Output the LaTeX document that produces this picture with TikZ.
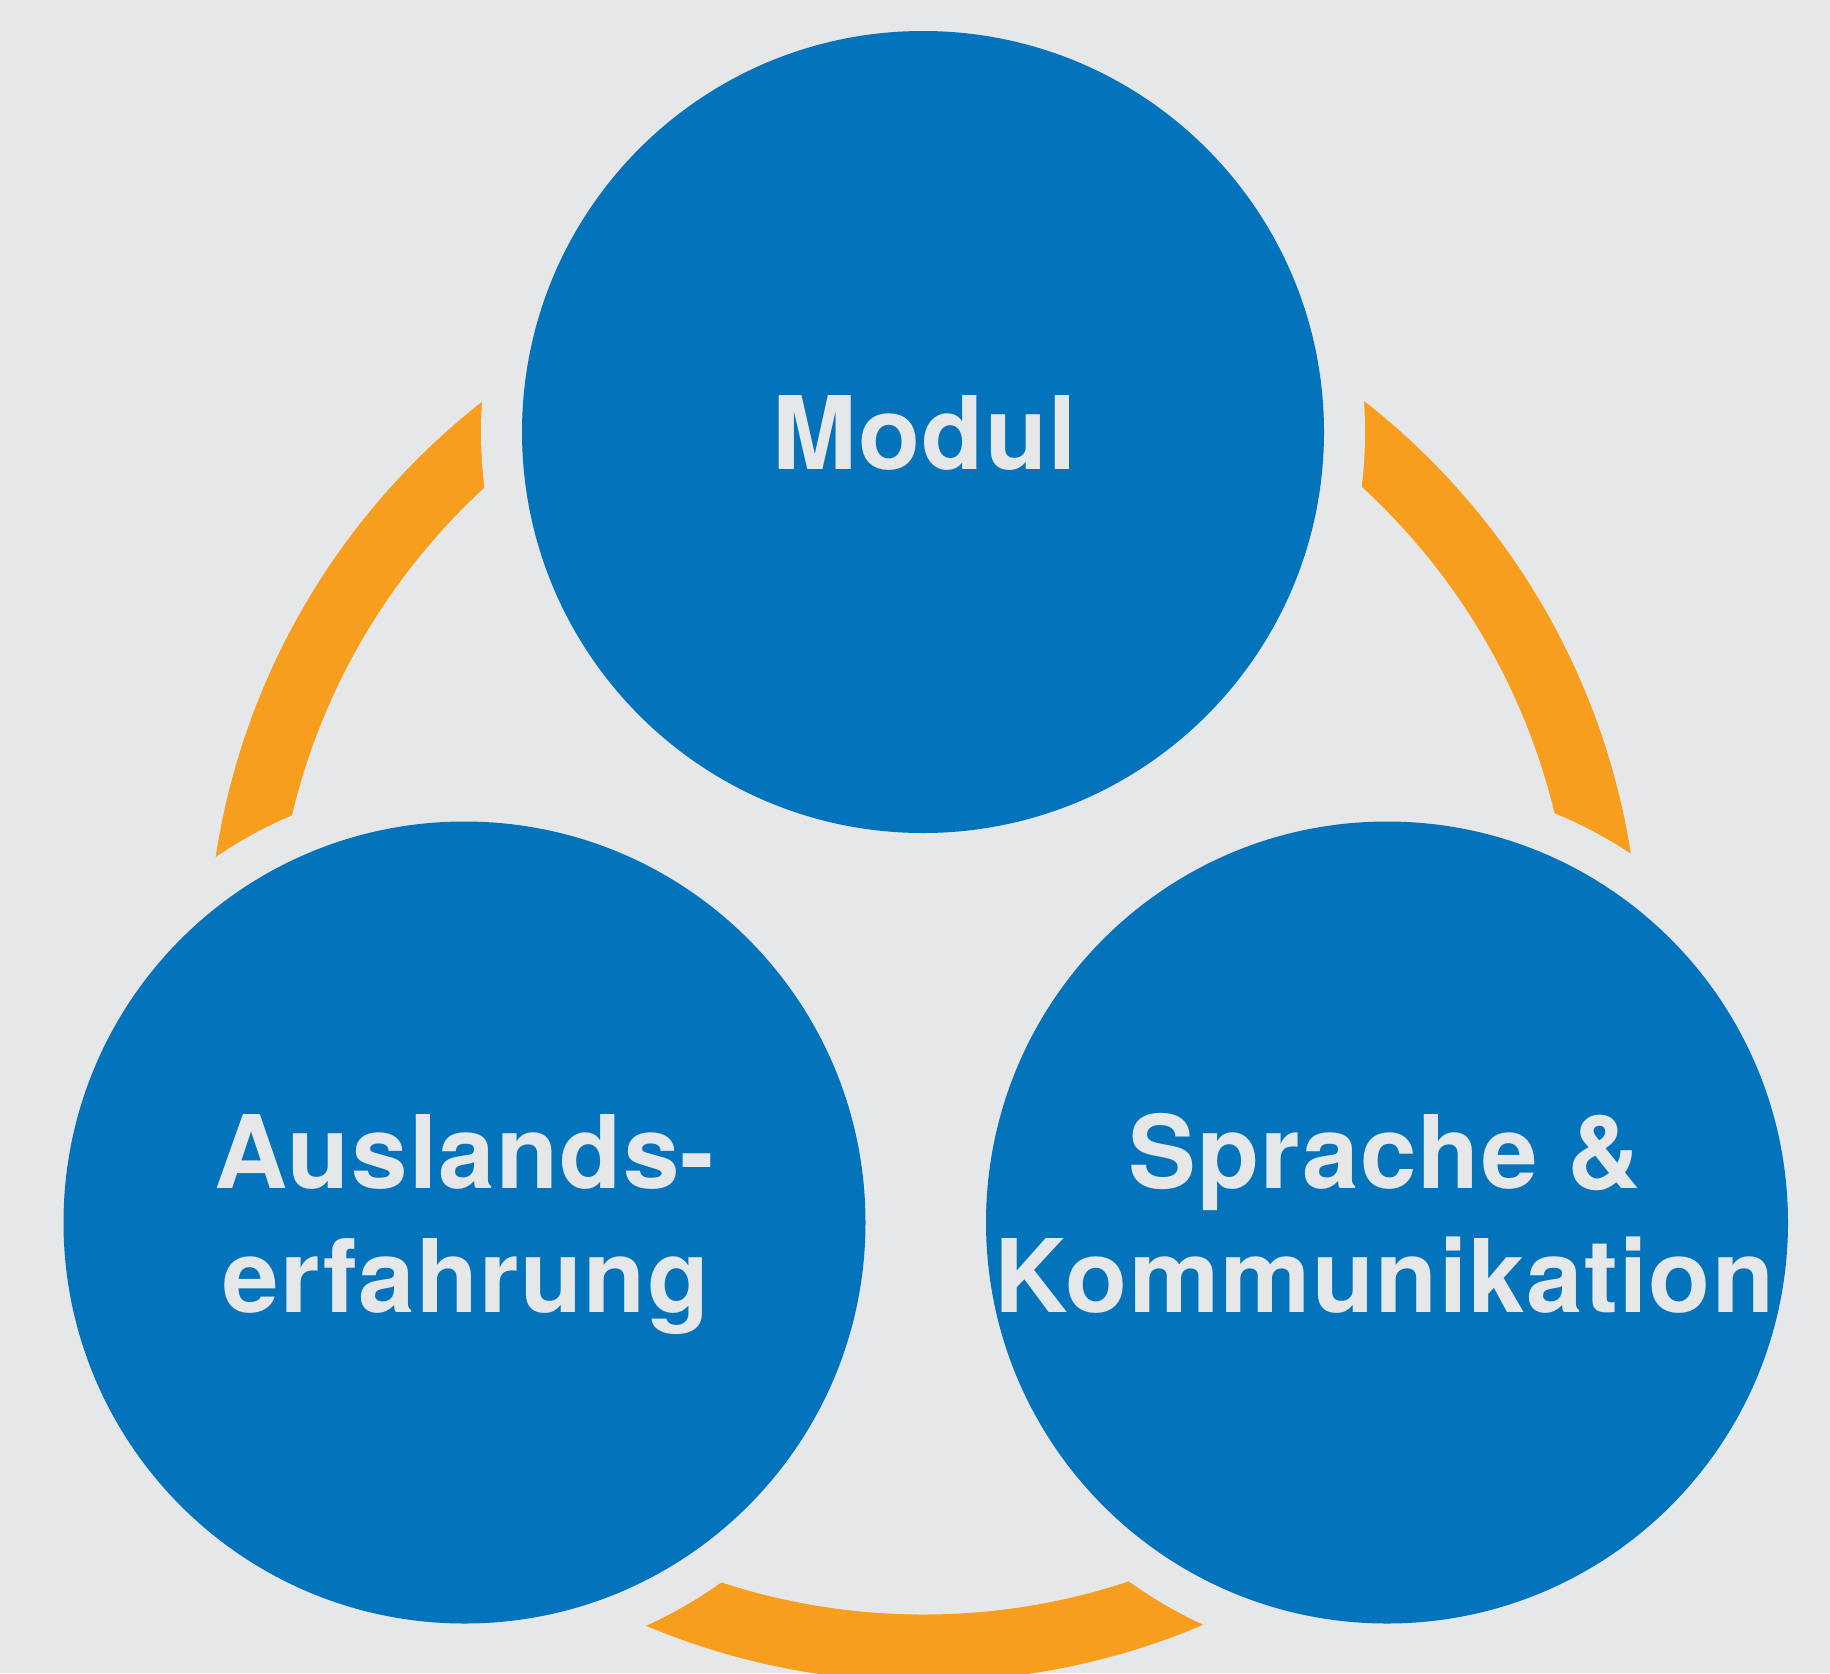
\documentclass[tikz,border=0pt]{standalone}
\usepackage{fontspec}
\setmainfont{TeX Gyre Heros}[LetterSpace=1.3]
\definecolor{bggrey}{HTML}{E6E7E9}
\definecolor{circblue}{HTML}{0373BB}
\definecolor{ringorange}{HTML}{F89E1F}
\definecolor{txtgrey}{HTML}{E6E7E9}
\tikzset{
  bluecircle/.style={circle, fill=circblue, inner sep=0pt, minimum size=802pt},
  halo/.style={fill=bggrey},
  label text/.style={anchor=base, text=txtgrey, inner sep=0pt, font=\fontsize{101.5}{124}\selectfont\bfseries},
}
\begin{document}
\begin{tikzpicture}[x=1pt,y=-1pt]
\useasboundingbox (0,0) rectangle (1830,1673);
\fill[bggrey] (0,0) rectangle (1830,1673);
% orange ring
\fill[ringorange, even odd rule] (923.5,965.5) circle (716pt) (923.5,965.5) circle (649pt);
% grey halos around circles
\fill[halo] (923,432) circle (442pt);
\fill[halo] (464.5,1222.5) circle (442pt);
\fill[halo] (1387,1222.5) circle (442pt);
% blue circles
\node[bluecircle] (modul) at (923,432) {};
\node[bluecircle] (ausland) at (464.5,1222.5) {};
\node[bluecircle] (sprache) at (1387,1222.5) {};
% texts
\node[label text] (tmodul) at (924.5,469) {Modul};
\node[label text] (taus1) at (464.5,1188) {Auslands-};
\node[label text] (taus2) at (466,1312) {erfahrung};
\node[label text] (tspr1) at (1384.5,1188) {Sprache \&};
\node[label text] (tspr2) at (1384.5,1312) {Kommunikation};
\end{tikzpicture}
\end{document}
